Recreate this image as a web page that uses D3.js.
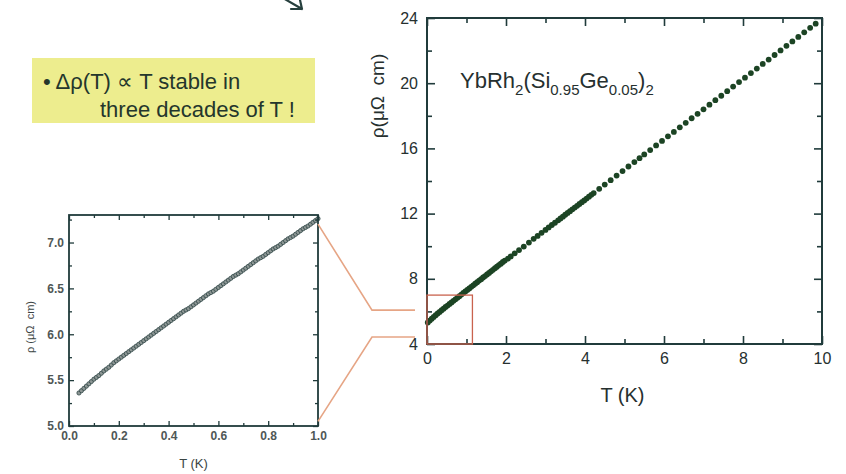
<!DOCTYPE html>
<html>
<head>
<meta charset="utf-8">
<script src="https://cdn.jsdelivr.net/npm/d3@7"></script>
<style>
  body { margin: 0; background: #fff; }
  svg { display: block; font-family: "Liberation Sans", Arial, sans-serif; }
</style>
</head>
<body>
<svg id="fig" width="846" height="474"></svg>
<script>
// main panel: rho(T) up to 10 K
var mainT = [0.02, 0.07, 0.12, 0.17, 0.22, 0.27, 0.32, 0.37, 0.42, 0.47,
  0.52, 0.57, 0.62, 0.67, 0.72, 0.77, 0.82, 0.87, 0.92, 0.97,
  1.02, 1.07, 1.12, 1.17, 1.22, 1.27, 1.32, 1.37, 1.42, 1.47,
  1.52, 1.57, 1.62, 1.67, 1.72, 1.77, 1.82, 1.87, 1.92, 1.97,
  2.05, 2.12, 2.22, 2.33, 2.45, 2.58, 2.70, 2.80, 2.90, 3.00,
  3.08, 3.16, 3.24, 3.32, 3.38, 3.44, 3.50, 3.56, 3.62, 3.68,
  3.74, 3.80, 3.86, 3.92, 3.98, 4.04, 4.10, 4.16, 4.22, 4.36,
  4.50, 4.65, 4.80, 4.95, 5.10, 5.25, 5.38, 5.50, 5.65, 5.80,
  5.95, 6.10, 6.25, 6.40, 6.55, 6.70, 6.85, 7.00, 7.15, 7.30,
  7.45, 7.60, 7.75, 7.90, 8.05, 8.20, 8.35, 8.50, 8.65, 8.80,
  8.95, 9.10, 9.25, 9.40, 9.55, 9.70, 9.84];
var mainRho = [5.32, 5.44, 5.55, 5.66, 5.77, 5.87, 5.97, 6.07, 6.17, 6.27,
  6.36, 6.46, 6.55, 6.65, 6.74, 6.84, 6.93, 7.03, 7.13, 7.22,
  7.32, 7.41, 7.51, 7.60, 7.70, 7.79, 7.89, 7.98, 8.08, 8.17,
  8.27, 8.36, 8.46, 8.55, 8.65, 8.74, 8.84, 8.93, 9.03, 9.12,
  9.24, 9.37, 9.56, 9.76, 9.98, 10.22, 10.45, 10.63, 10.82, 11.00,
  11.15, 11.30, 11.44, 11.59, 11.70, 11.81, 11.93, 12.04, 12.15, 12.26,
  12.37, 12.48, 12.59, 12.70, 12.81, 12.92, 13.04, 13.15, 13.26, 13.52,
  13.78, 14.05, 14.33, 14.61, 14.89, 15.16, 15.40, 15.63, 15.90, 16.18,
  16.46, 16.74, 17.01, 17.29, 17.57, 17.85, 18.12, 18.40, 18.68, 18.96,
  19.23, 19.51, 19.79, 20.07, 20.34, 20.62, 20.90, 21.18, 21.45, 21.73,
  22.01, 22.29, 22.56, 22.84, 23.12, 23.40, 23.65];

// inset: the lowest kelvin
var insetT = [0.04, 0.05, 0.06, 0.07, 0.08, 0.09, 0.10, 0.11, 0.12, 0.13,
  0.14, 0.15, 0.16, 0.17, 0.18, 0.19, 0.20, 0.21, 0.22, 0.23,
  0.24, 0.25, 0.26, 0.27, 0.28, 0.29, 0.30, 0.31, 0.32, 0.33,
  0.34, 0.35, 0.36, 0.37, 0.38, 0.39, 0.40, 0.41, 0.42, 0.43,
  0.44, 0.45, 0.46, 0.47, 0.48, 0.49, 0.50, 0.51, 0.52, 0.53,
  0.54, 0.55, 0.56, 0.57, 0.58, 0.59, 0.60, 0.61, 0.62, 0.63,
  0.64, 0.65, 0.66, 0.67, 0.68, 0.69, 0.70, 0.71, 0.72, 0.73,
  0.74, 0.75, 0.76, 0.77, 0.78, 0.79, 0.80, 0.81, 0.82, 0.83,
  0.84, 0.85, 0.86, 0.87, 0.88, 0.89, 0.90, 0.91, 0.92, 0.93,
  0.94, 0.95, 0.96, 0.97, 0.98, 0.99, 1.00];
var insetRho = [5.360, 5.385, 5.410, 5.435, 5.460, 5.485, 5.510, 5.530, 5.550, 5.575,
  5.600, 5.620, 5.640, 5.665, 5.690, 5.710, 5.730, 5.750, 5.770, 5.790,
  5.810, 5.830, 5.850, 5.870, 5.890, 5.910, 5.930, 5.950, 5.970, 5.990,
  6.010, 6.030, 6.050, 6.070, 6.090, 6.110, 6.130, 6.150, 6.170, 6.190,
  6.210, 6.230, 6.250, 6.265, 6.280, 6.300, 6.320, 6.340, 6.360, 6.380,
  6.400, 6.420, 6.440, 6.455, 6.470, 6.490, 6.510, 6.530, 6.550, 6.570,
  6.590, 6.610, 6.630, 6.645, 6.660, 6.680, 6.700, 6.720, 6.740, 6.760,
  6.780, 6.800, 6.820, 6.835, 6.850, 6.870, 6.890, 6.910, 6.930, 6.945,
  6.960, 6.980, 7.000, 7.020, 7.040, 7.055, 7.070, 7.090, 7.110, 7.130,
  7.150, 7.165, 7.180, 7.200, 7.220, 7.240, 7.260];

var mainXTicks = [0, 2, 4, 6, 8, 10];
var mainXMinor = [1, 3, 5, 7, 9];
var mainYTicks = [4, 8, 12, 16, 20, 24];
var mainYMinor = [6, 10, 14, 18, 22];
var insetXTicks = [0, 0.2, 0.4, 0.6, 0.8, 1.0];
var insetXMinor = [0.1, 0.3, 0.5, 0.7, 0.9];
var insetYTicks = [5.0, 5.5, 6.0, 6.5, 7.0];
var insetYMinor = [5.25, 5.75, 6.25, 6.75, 7.25];

// zoom window drawn on the main panel
var zoomT = [0, 1.15];
var zoomRho = [4, 7];

var axisColor = '#203b3b';
var svg = d3.select('#fig');

var main = {l: 427, t: 18, w: 395, h: 326};
var ins = {l: 69, t: 215, w: 249, h: 211};

var xMain = d3.scaleLinear().domain([0, 10]).range([0, main.w]);
var yMain = d3.scaleLinear().domain([4, 24]).range([main.h, 0]);
var xIns = d3.scaleLinear().domain([0, 1]).range([0, ins.w]);
var yIns = d3.scaleLinear().domain([5.0, 7.3]).range([ins.h, 0]);

function drawAxes(g, box, x, y, o) {
  // inward ticks on all four sides, labels only bottom/left
  var addAxis = function(gen, tx, ty, vals, size, fmt) {
    var a = g.append('g').attr('transform', 'translate(' + [tx, ty] + ')')
      .call(gen.tickValues(vals).tickSize(size).tickSizeOuter(0)
        .tickPadding(o.pad).tickFormat(fmt));
    a.select('.domain').remove();
    a.selectAll('line').attr('stroke', axisColor).attr('stroke-width', o.tw);
    a.selectAll('text').attr('fill', o.labelColor).style('font-size', o.fs + 'px')
      .style('font-weight', o.fw);
    return a;
  };
  var none = function() { return ''; };
  addAxis(d3.axisBottom(x), 0, box.h, o.xt, -o.major, o.xf);
  addAxis(d3.axisBottom(x), 0, box.h, o.xm, -o.minor, none);
  addAxis(d3.axisTop(x), 0, 0, o.xt, -o.major, none);
  addAxis(d3.axisTop(x), 0, 0, o.xm, -o.minor, none);
  addAxis(d3.axisLeft(y), 0, 0, o.yt, -o.major, o.yf);
  addAxis(d3.axisLeft(y), 0, 0, o.ym, -o.minor, none);
  addAxis(d3.axisRight(y), box.w, 0, o.yt, -o.major, none);
  addAxis(d3.axisRight(y), box.w, 0, o.ym, -o.minor, none);
  g.append('rect')
    .attr('width', box.w).attr('height', box.h)
    .attr('fill', 'none').attr('stroke', axisColor).attr('stroke-width', o.frame);
}

// ---- yellow note box
svg.append('rect')
  .attr('x', 32).attr('y', 58).attr('width', 283).attr('height', 65)
  .attr('fill', '#eded8e');
var note = svg.append('text').attr('fill', '#24362c').style('font-size', '22px');
note.append('tspan').attr('x', 43).attr('y', 89).text('\u2022 \u0394\u03c1(T) \u221d T stable in');
note.append('tspan').attr('x', 100).attr('y', 117).text('three decades of T !');

// small arrow at the top edge
svg.append('path')
  .attr('d', 'M283,-2 L302,9 M291,9 L302,9 L300,0')
  .attr('fill', 'none').attr('stroke', '#27403e').attr('stroke-width', 2.2)
  .attr('stroke-linecap', 'round').attr('stroke-linejoin', 'round');

// ---- main panel
var gm = svg.append('g').attr('transform', 'translate(' + [main.l, main.t] + ')');

gm.append('g').selectAll('circle')
  .data(mainT.map(function(t, i) { return {t: t, r: mainRho[i]}; }))
  .enter().append('circle')
  .attr('cx', function(d) { return xMain(d.t); })
  .attr('cy', function(d) { return yMain(d.r); })
  .attr('r', 2.9)
  .attr('fill', '#1c4424');

drawAxes(gm, main, xMain, yMain, {
  xt: mainXTicks, xm: mainXMinor, yt: mainYTicks, ym: mainYMinor,
  major: 8, minor: 5, pad: 9, tw: 1.6, frame: 2, fs: 16, fw: 'normal',
  labelColor: '#26302f', xf: d3.format('d'), yf: d3.format('d')
});

// zoom window
gm.append('rect')
  .attr('x', xMain(zoomT[0])).attr('y', yMain(zoomRho[1]))
  .attr('width', xMain(zoomT[1]) - xMain(zoomT[0]))
  .attr('height', yMain(zoomRho[0]) - yMain(zoomRho[1]))
  .attr('fill', 'none').attr('stroke', '#c9634e').attr('stroke-width', 1.3);

gm.append('text')
  .attr('x', main.w / 2 - 2).attr('y', main.h + 58)
  .attr('text-anchor', 'middle').attr('fill', '#26302f')
  .style('font-size', '20px').text('T (K)');

gm.append('text')
  .attr('transform', 'translate(' + [-43, 78] + ') rotate(-90)')
  .attr('text-anchor', 'middle').attr('fill', '#26302f')
  .style('font-size', '19px').style('white-space', 'pre')
  .text('\u03c1(\u03bc\u03a9  cm)');

// compound name with subscripts
var title = gm.append('text').attr('x', 33).attr('y', 70)
  .attr('fill', '#26302f').style('font-size', '22px');
var parts = [['YbRh', 0], ['2', 1], ['(Si', 0], ['0.95', 1], ['Ge', 0], ['0.05', 1], [')', 0], ['2', 1]];
var lastSub = 0;
parts.forEach(function(p) {
  var shift = p[1] ? 7 : 0;
  title.append('tspan')
    .attr('dy', shift - lastSub)
    .style('font-size', p[1] ? '15px' : '22px')
    .text(p[0]);
  lastSub = shift;
});

// ---- inset panel
var gi = svg.append('g').attr('transform', 'translate(' + [ins.l, ins.t] + ')');

gi.append('g').selectAll('circle')
  .data(insetT.map(function(t, i) { return {t: t, r: insetRho[i]}; }))
  .enter().append('circle')
  .attr('cx', function(d) { return xIns(d.t); })
  .attr('cy', function(d) { return yIns(d.r); })
  .attr('r', 2.1)
  .attr('fill', '#8e9795').attr('stroke', '#2f4545').attr('stroke-width', 0.8);

drawAxes(gi, ins, xIns, yIns, {
  xt: insetXTicks, xm: insetXMinor, yt: insetYTicks, ym: insetYMinor,
  major: 5, minor: 3, pad: 5, tw: 1.3, frame: 1.8, fs: 12, fw: 'bold',
  labelColor: '#4f5756', xf: d3.format('.1f'), yf: d3.format('.1f')
});

gi.append('text')
  .attr('x', ins.w / 2).attr('y', ins.h + 42)
  .attr('text-anchor', 'middle').attr('fill', '#3a4443')
  .style('font-size', '13px').text('T (K)');

gi.append('text')
  .attr('transform', 'translate(' + [-35, 112] + ') rotate(-90)')
  .attr('text-anchor', 'middle').attr('fill', '#3a4443')
  .style('font-size', '11px').style('white-space', 'pre')
  .text('\u03c1 (\u03bc\u03a9  cm)');

// ---- connectors from inset to the zoom window
var elbowX = 372;
var upper = [[ins.l + ins.w, ins.t + yIns(7.2)], [elbowX, main.t + yMain(6.08)], [main.l - 12, main.t + yMain(6.08)]];
var lower = [[ins.l + ins.w, ins.t + yIns(5.05)], [elbowX, main.t + yMain(4.43)], [main.l - 12, main.t + yMain(4.43)]];
[upper, lower].forEach(function(pts) {
  svg.append('path')
    .attr('d', d3.line()(pts))
    .attr('fill', 'none').attr('stroke', '#e6a585').attr('stroke-width', 1.6);
});
</script>
</body>
</html>
